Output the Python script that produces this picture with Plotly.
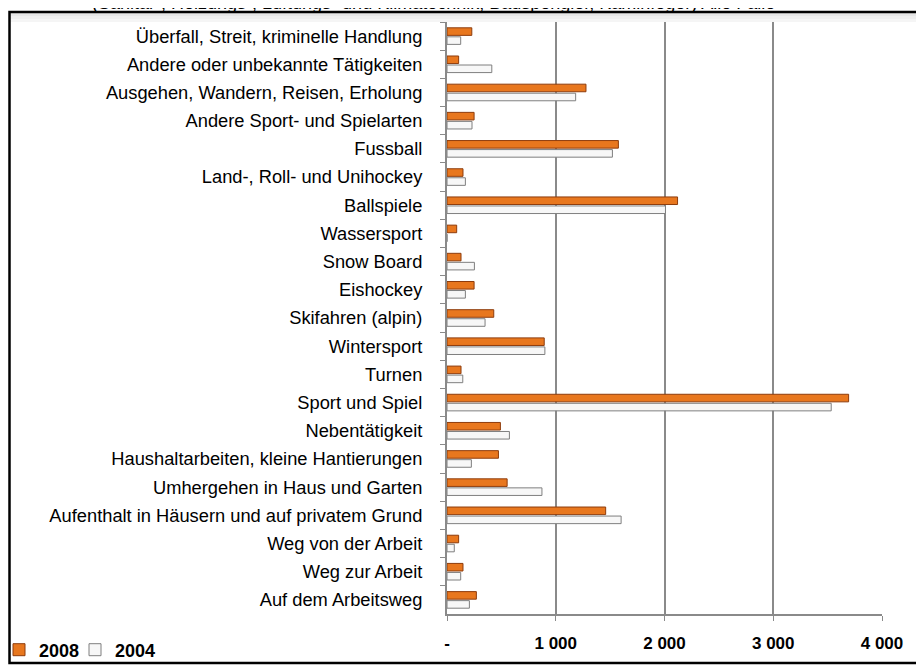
import plotly.graph_objects as go

# categories, top to bottom as in the picture
categories = [
    "Überfall, Streit, kriminelle Handlung",
    "Andere oder unbekannte Tätigkeiten",
    "Ausgehen, Wandern, Reisen, Erholung",
    "Andere Sport- und Spielarten",
    "Fussball",
    "Land-, Roll- und Unihockey",
    "Ballspiele",
    "Wassersport",
    "Snow Board",
    "Eishockey",
    "Skifahren (alpin)",
    "Wintersport",
    "Turnen",
    "Sport und Spiel",
    "Nebentätigkeit",
    "Haushaltarbeiten, kleine Hantierungen",
    "Umhergehen in Haus und Garten",
    "Aufenthalt in Häusern und auf privatem Grund",
    "Weg von der Arbeit",
    "Weg zur Arbeit",
    "Auf dem Arbeitsweg",
]

values_2008 = [228, 107, 1278, 249, 1576, 147, 2120, 89, 129, 249, 430, 894,
               129, 3693, 491, 473, 553, 1459, 107, 147, 270]
values_2004 = [126, 412, 1183, 230, 1521, 169, 2009, 0, 252, 169, 350, 900,
               145, 3533, 574, 224, 873, 1601, 67, 126, 206]

x_ticks = [0, 1000, 2000, 3000, 4000]
x_labels = ["-", "1 000", "2 000", "3 000", "4 000"]

title_text = "(Sanitär-, Heizungs-, Lüftungs- und Klimatechnik, Bauspengler, Kaminfeger) Alle Fälle"

# the page body has an 8px margin, so the figure starts at (8, 8) on screen.
# plot area on screen: x 447..882, y 22..614
OFF = 8
L, R, T, B = 447, 882, 22, 614
W, H = 924 - OFF, 665 - OFF


def px_x(p):
    return (p - L) / (R - L)


def px_y(p):
    return (B - p) / (B - T)


fig = go.Figure()
fig.add_trace(go.Bar(
    y=categories, x=values_2008, orientation="h", name="<b>2008</b>",
    marker=dict(color="#E8771E", line=dict(color="#8E3C0C", width=1)),
    legend="legend",
))
fig.add_trace(go.Bar(
    y=categories, x=values_2004, orientation="h", name="<b>2004</b>",
    marker=dict(color="#F7F7F7", line=dict(color="#7F7F7F", width=1)),
    legend="legend2",
))

# outer frame plus a faint grey fade under its top edge
shapes = []
for i, c in enumerate(["#E6E6E6", "#EEEEEE", "#F5F5F5"]):
    shapes.append(dict(type="rect", xref="paper", yref="paper",
                       x0=px_x(10), x1=px_x(920), y0=px_y(13 + 3 * (i + 1)), y1=px_y(13 + 3 * i),
                       line=dict(width=0), fillcolor=c, layer="below"))
shapes.append(dict(type="rect", xref="paper", yref="paper",
                   x0=px_x(9.5), x1=px_x(921), y0=px_y(663), y1=px_y(12),
                   line=dict(color="black", width=2.5), layer="below"))

legend_style = dict(orientation="h", xanchor="left", y=px_y(650), yanchor="middle",
                    font=dict(size=18), itemwidth=30, bgcolor="rgba(0,0,0,0)")

fig.update_layout(
    width=W, height=H,
    margin=dict(l=L - OFF, r=W - (R - OFF), t=T - OFF, b=H - (B - OFF), autoexpand=False),
    paper_bgcolor="white", plot_bgcolor="rgba(0,0,0,0)",
    barmode="group", bargap=0.36, bargroupgap=0.16,
    font=dict(family="Liberation Sans, Arial, sans-serif", color="black"),
    showlegend=True,
    legend=dict(x=px_x(-1), **legend_style),
    legend2=dict(x=px_x(75), **legend_style),
    xaxis=dict(range=[0, 4000], tickvals=x_ticks,
               ticktext=["<b>%s</b>" % t for t in x_labels],
               tickfont=dict(size=17),
               showgrid=True, gridcolor="#8A8A8A", gridwidth=2,
               zeroline=False, showline=True, linecolor="#8A8A8A", linewidth=2,
               ticks="outside", ticklen=5, tickcolor="#8A8A8A",
               ticklabelstandoff=8, fixedrange=True),
    yaxis=dict(autorange="reversed", tickfont=dict(size=18.3),
               showline=True, linecolor="#8A8A8A", linewidth=2,
               ticks="outside", ticklen=5, tickcolor="#8A8A8A",
               tickson="boundaries", ticklabelstandoff=19,
               showgrid=False, fixedrange=True),
    shapes=shapes,
    annotations=[dict(text=title_text, xref="paper", yref="paper",
                      x=px_x(433), y=px_y(3),
                      xanchor="center", yanchor="middle", showarrow=False,
                      font=dict(size=18))],
)

fig.write_html("out.html")
